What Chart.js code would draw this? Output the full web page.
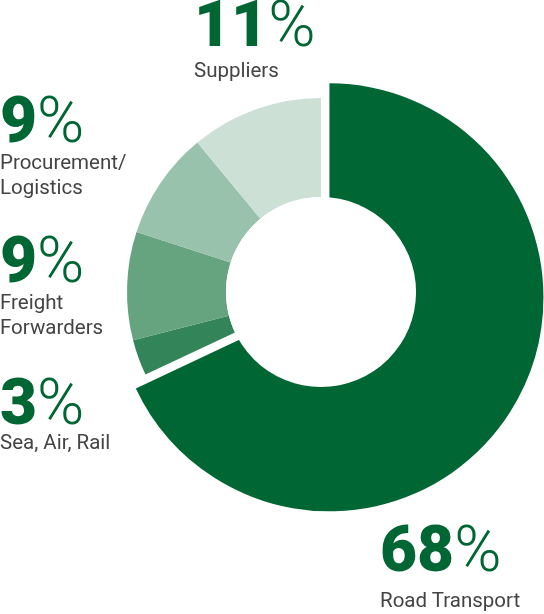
<!DOCTYPE html>
<html>
<head>
<meta charset="utf-8">
<script src="https://cdn.jsdelivr.net/npm/chart.js@4.4.0/dist/chart.umd.min.js"></script>
<style>
    html, body { margin: 0; padding: 0; background: #fff; }
    #holder { position: relative; width: 544px; height: 614px; overflow: hidden; }
    #holder canvas { position: absolute; left: 0; top: 0; }
    .pct { position: absolute; white-space: nowrap; font-family: Roboto, sans-serif; font-size: 64px; line-height: 64px; color: #006633; }
    .pct b { font-weight: 900; }
    .pct span { font-weight: 300; }
    .name { position: absolute; white-space: nowrap; font-family: Roboto, sans-serif; font-size: 20.5px; line-height: 25px; color: #444; }
</style>
</head>
<body>
<div id="holder">
    <canvas id="myChart" width="544" height="614"></canvas>
</div>
<script>
// data, clockwise from 12 o'clock
const categories = ['Road Transport', 'Sea, Air, Rail', 'Freight Forwarders', 'Procurement/Logistics', 'Suppliers'];
const shares = [68, 3, 9, 9, 11];
const nameLines = [['Road Transport'], ['Sea, Air, Rail'], ['Freight', 'Forwarders'], ['Procurement/', 'Logistics'], ['Suppliers']];
const colors = ['#006633', '#338559', '#66a37f', '#99c2ad', '#cce0d6'];

// where each label sits: left x, baseline of the percent, baseline of the first name line
const labelPos = [[380, 572, 608], [0, 425, 450], [0, 283, 310], [0, 143, 170], [194, 47, 78]];

const PCT_SIZE = 64;
const NAME_SIZE = 20.5;

const PULL = 10;        // how far the big slice is pulled out
const BIG_RADIUS = 214; // outer radius of the big slice

const explodeFirst = {
    id: 'explodeFirst',
    afterDatasetsUpdate(chart) {
        const arc = chart.getDatasetMeta(0).data[0];
        const mid = (arc.startAngle + arc.endAngle) / 2;
        arc.x += Math.cos(mid) * PULL;
        arc.y += Math.sin(mid) * PULL;
        arc.outerRadius = BIG_RADIUS;
        arc.innerRadius = 0;
    },
    afterDatasetsDraw(chart) {
        // hole stays round, centred on the small slices
        const ref = chart.getDatasetMeta(0).data[1];
        const c = chart.ctx;
        c.save();
        c.fillStyle = '#ffffff';
        c.beginPath();
        c.arc(ref.x, ref.y, ref.innerRadius, 0, Math.PI * 2);
        c.fill();
        c.restore();
    }
};

const ctx = document.getElementById('myChart').getContext('2d');
const myChart = new Chart(ctx, {
    type: 'doughnut',
    data: {
        labels: categories,
        datasets: [{
            data: shares,
            backgroundColor: colors,
            borderWidth: 0
        }]
    },
    options: {
        responsive: false,
        animation: false,
        events: [],
        radius: 194,
        cutout: '49%',
        layout: { padding: { left: 98, right: 0, top: 0, bottom: 30 } },
        plugins: {
            legend: { display: false },
            tooltip: { enabled: false }
        }
    },
    plugins: [explodeFirst]
});

// labels as html text
const holder = document.getElementById('holder');
categories.forEach((cat, i) => {
    const [x, pctBase, nameBase] = labelPos[i];
    const pct = document.createElement('div');
    pct.className = 'pct';
    pct.style.left = x + 'px';
    pct.style.top = (pctBase - 0.8415 * PCT_SIZE) + 'px';
    pct.innerHTML = '<b>' + shares[i] + '</b><span>%</span>';
    holder.append(pct);

    const name = document.createElement('div');
    name.className = 'name';
    name.style.left = x + 'px';
    name.style.top = (nameBase - 12.5 - 0.3415 * NAME_SIZE) + 'px';
    name.innerHTML = nameLines[i].join('<br>');
    holder.append(name);
});
</script>
</body>
</html>
